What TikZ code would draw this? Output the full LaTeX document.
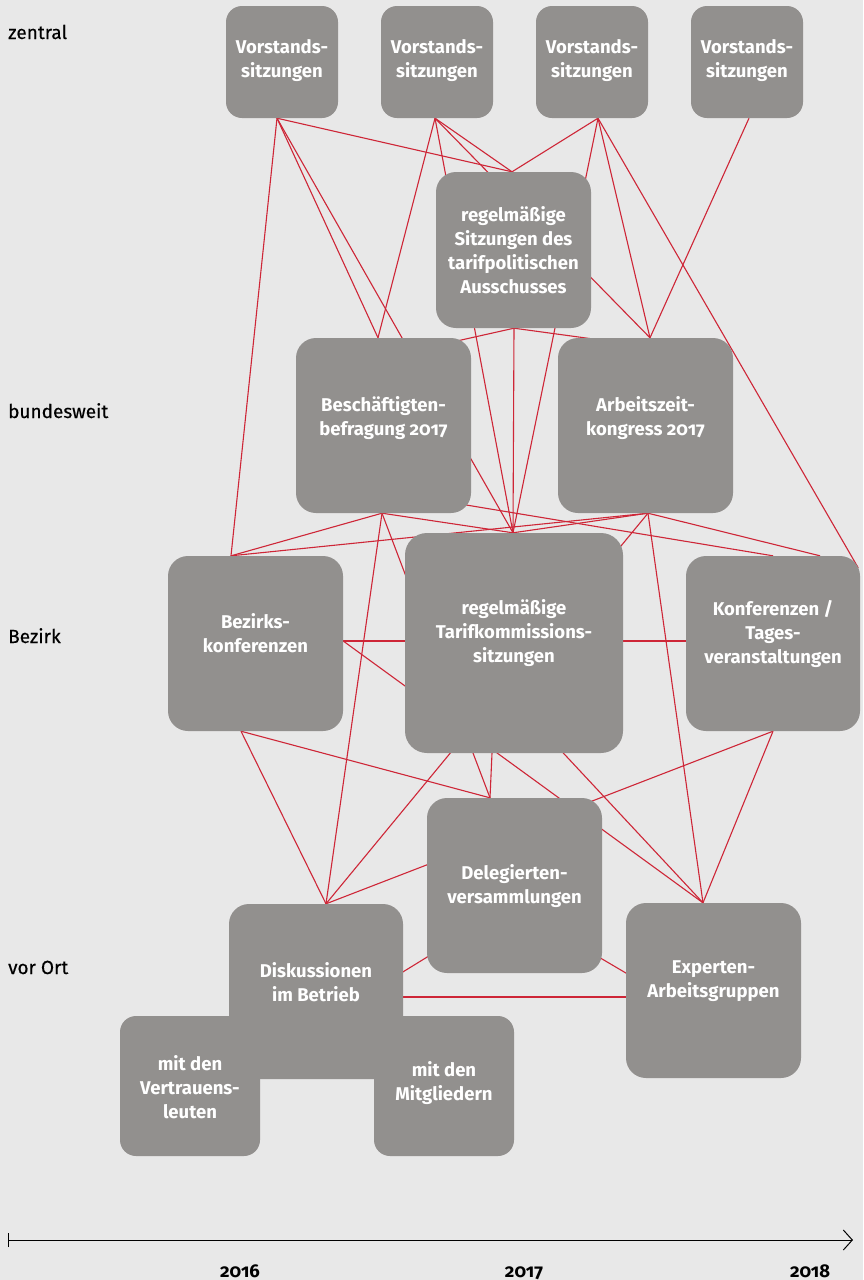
\documentclass[tikz,border=0pt]{standalone}
\usepackage{fontspec}
\setmainfont{Fira Sans}[Numbers=OldStyle]
\newfontfamily\levfont{Fira Sans}[Numbers=OldStyle,FakeBold=0.35]
\usetikzlibrary{calc,arrows.meta}
\definecolor{bgc}{RGB}{232,232,232}
\definecolor{boxc}{RGB}{146,144,142}
\definecolor{linec}{RGB}{206,38,55}
\pgfdeclarelayer{bg}
\pgfdeclarelayer{lines}
\pgfsetlayers{bg,lines,main}
\tikzset{
  box/.style={fill=boxc, draw=none, inner sep=0pt, rounded corners=20pt},
  smallbox/.style={box, minimum width=112pt, minimum height=112pt, rounded corners=16pt},
  bigbox/.style={box, minimum width=175pt, minimum height=175pt},
  midbox/.style={box, minimum width=140pt, minimum height=140pt, rounded corners=16pt},
  btext/.style={text=white, font=\bfseries\fontsize{18.5}{24}\selectfont, align=center, inner sep=0pt},
  lev/.style={font=\levfont\fontsize{19}{24}\selectfont, anchor=base west, inner sep=0pt},
  yr/.style={font=\bfseries\fontsize{18.5}{24}\selectfont, anchor=base, inner sep=0pt},
  link/.style={draw=linec, line width=1.1pt}
}
\begin{document}
\begin{tikzpicture}[x=1pt,y=-1pt]
\useasboundingbox (0,0) rectangle (863,1280);
\begin{pgfonlayer}{bg}
\fill[bgc] (0,0) rectangle (863,1280);
\end{pgfonlayer}

% boxes
\node[smallbox] (V1) at (282,62) {};
\node[smallbox] (V2) at (437,62) {};
\node[smallbox] (V3) at (592,62) {};
\node[smallbox] (V4) at (747,62) {};
\node[box, minimum width=155pt, minimum height=156pt] (TA) at (513.5,250) {};
\node[bigbox] (B) at (383.5,425.5) {};
\node[bigbox] (A) at (645.5,425.5) {};
\node[bigbox] (BK) at (255.5,643.5) {};
\node[box, minimum width=218pt, minimum height=220pt, rounded corners=22pt] (TK) at (514,643) {};
\node[bigbox, minimum width=174pt] (KT) at (773,643.5) {};
\node[bigbox] (D) at (514.5,885.5) {};
\node[bigbox, minimum width=174pt] (DB) at (316,991.5) {};
\node[bigbox] (E) at (713.5,990.5) {};
\node[midbox] (MV) at (190,1086) {};
\node[midbox] (MM) at (444,1086) {};

% box texts
\node[btext] (V1t) at (282,61) {Vorstands-\\sitzungen};
\node[btext] (V2t) at (437,61) {Vorstands-\\sitzungen};
\node[btext] (V3t) at (592,61) {Vorstands-\\sitzungen};
\node[btext] (V4t) at (747,61) {Vorstands-\\sitzungen};
\node[btext] (TAx) at (513.5,250) {regelmäßige\\Sitzungen des\\tarifpolitischen\\Ausschusses};
\node[btext] (Bx) at (383.5,418) {Beschäftigten-\\befragung 2017};
\node[btext] (Ax) at (645.5,418) {Arbeitszeit-\\kongress 2017};
\node[btext] (BKx) at (255.5,633) {Bezirks-\\konferenzen};
\node[btext] (TKx) at (514,633) {regelmäßige\\Tarifkommissions-\\sitzungen};
\node[btext] (KTx) at (773,634) {Konferenzen /\\Tages-\\veranstaltungen};
\node[btext] (Dx) at (514.5,886) {Delegierten-\\versammlungen};
\node[btext] (DBx) at (316,982) {Diskussionen\\im Betrieb};
\node[btext] (Ex) at (713.5,981) {Experten-\\Arbeitsgruppen};
\node[btext] (MVx) at (190,1087) {mit den\\Vertrauens-\\leuten};
\node[btext] (MMx) at (444,1083) {mit den\\Mitgliedern};

% level labels
\node[lev] (Lz) at (8,39) {zentral};
\node[lev] (Lb) at (8,418) {bundesweit};
\node[lev] (Lbz) at (8,643) {Bezirk};
\node[lev] (Lv) at (8,974) {vor Ort};

% time axis
\coordinate (ax0) at (8,1240);
\coordinate (ax1) at (853,1240);
\draw[line width=1pt, {Bar[width=14pt]}-{Straight Barb[length=9pt,width=20pt]}] (ax0) -- (ax1);
\node[yr] (Y16) at (240,1277) {2016};
\node[yr] (Y17) at (524,1277) {2017};
\node[yr] (Y18) at (810,1277) {2018};

% anchor coordinates
\coordinate (V1b) at ($(V1.south)+(-5,0)$);
\coordinate (V2b) at ($(V2.south)+(-2,0)$);
\coordinate (V3b) at ($(V3.south)+(6,0)$);
\coordinate (V4b) at ($(V4.south)+(2,0)$);
\coordinate (TAt) at ($(TA.north)+(-1.5,0)$);
\coordinate (TAb) at ($(TA.south)+(0.5,0)$);
\coordinate (Bt) at ($(B.north)+(-5.5,0)$);
\coordinate (Bb) at ($(B.south)+(-1.5,0)$);
\coordinate (At) at ($(A.north)+(4.5,0)$);
\coordinate (Ab) at ($(A.south)+(2.5,0)$);
\coordinate (BKt) at ($(BK.north)+(-24.5,0)$);
\coordinate (BKb) at ($(BK.south)+(-14.5,0)$);
\coordinate (BKr) at ($(BK.east)+(0,-2.5)$);
\coordinate (TKt) at ($(TK.north)+(-1,0)$);
\coordinate (TKl) at (TK.west |- BKr);
\coordinate (TKr) at ($(TK.east)+(0,-2)$);
\coordinate (KTl) at (KT.west |- TKr);
\coordinate (TKb) at ($(TK.south)+(-22,0)$);
\coordinate (KTta) at (KT.north);
\coordinate (KTtb) at ($(KT.north)+(47,0)$);
\coordinate (KTc) at ($(KT.north east)+(-2,12)$);
\coordinate (KTb) at (KT.south);
\coordinate (Dt) at ($(D.north)+(-24.5,0)$);
\coordinate (DBt) at ($(DB.north)+(10,0)$);
\coordinate (Et) at ($(E.north)+(-10.5,0)$);
\coordinate (inB1) at ($(B.center)+(46.5,-78.5)$);
\coordinate (inA1) at ($(A.center)+(-15.5,-81.5)$);
\coordinate (inB2) at ($(B.center)+(46.5,73.5)$);
\coordinate (inTK) at ($(TK.center)+(-44,10)$);
\coordinate (DBr) at ($(DB.east)+(0,5.5)$);
\coordinate (El) at (E.west |- DBr);
\coordinate (DBlk) at ($(DB.center)+(64,-5.5)$);
\coordinate (Dlk1) at ($(D.center)+(-64.5,57.5)$);
\coordinate (Dlk2) at ($(D.center)+(65.5,60.5)$);
\coordinate (Elk) at ($(E.center)+(-65.5,-4.5)$);

\begin{pgfonlayer}{lines}
\draw[link] (V1b) -- (BKt);
\draw[link] (V1b) -- (Bt);
\draw[link] (V1b) -- (TKt);
\draw[link] (V1b) -- (TAt);
\draw[link] (V2b) -- (Bt);
\draw[link] (V2b) -- (TKt);
\draw[link] (V2b) -- (At);
\draw[link] (V2b) -- (TAt);
\draw[link] (V3b) -- (TAt);
\draw[link] (V3b) -- (TKt);
\draw[link] (V3b) -- (At);
\draw[link] (V3b) -- (KTc);
\draw[link] (V4b) -- (At);
\draw[link] (TAb) -- (TKt);
\draw[link] (TAb) -- (inB1);
\draw[link] (TAb) -- (inA1);
\draw[link] (Bb) -- (BKt);
\draw[link] (Bb) -- (TKt);
\draw[link] (Bb) -- (DBt);
\draw[link] (Bb) -- (Dt);
\draw[link] (inB2) -- (KTta);
\draw[link] (Ab) -- (BKt);
\draw[link] (Ab) -- (TKt);
\draw[link] (Ab) -- (KTtb);
\draw[link] (Ab) -- (Et);
\draw[link] (Ab) -- (DBt);
\draw[link] (BKr) -- (TKl);
\draw[link] (BKr) -- (Et);
\draw[link] (BKb) -- (DBt);
\draw[link] (BKb) -- (Dt);
\draw[link] (TKr) -- (KTl);
\draw[link] (TKb) -- (Dt);
\draw[link] (inTK) -- (Et);
\draw[link] (KTb) -- (DBt);
\draw[link] (KTb) -- (Et);
\draw[link] (Dlk1) -- (DBlk);
\draw[link] (Dlk2) -- (Elk);
\draw[link] (DBr) -- (El);
\end{pgfonlayer}
\end{tikzpicture}
\end{document}
